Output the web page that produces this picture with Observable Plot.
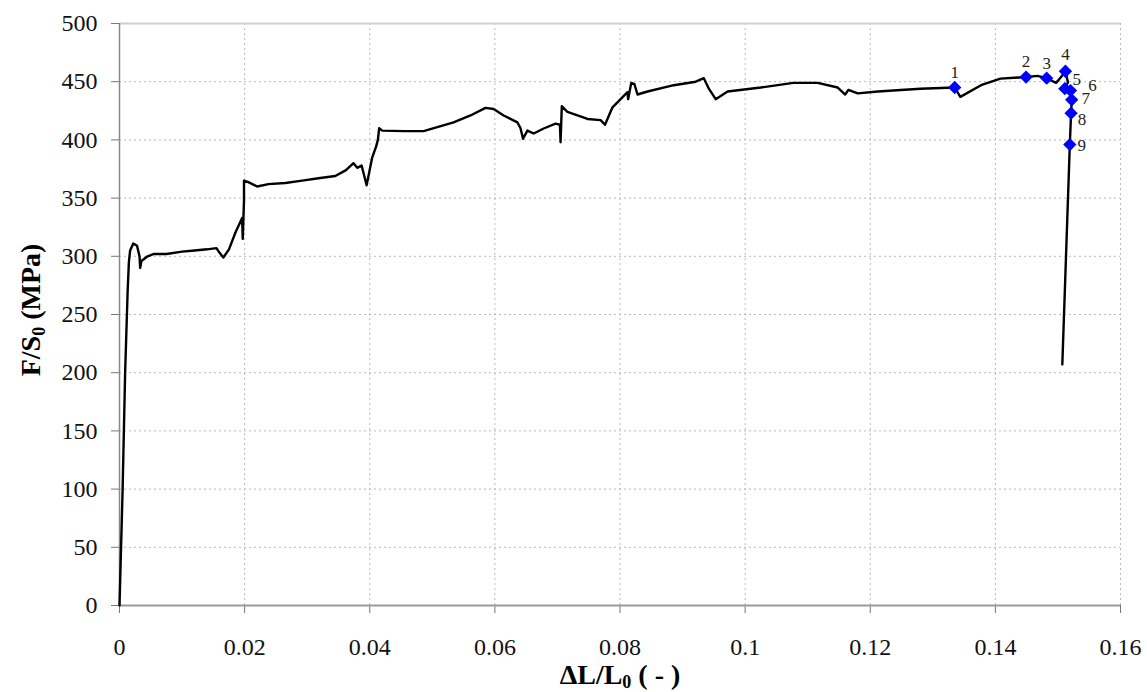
<!DOCTYPE html>
<html>
<head>
<meta charset="utf-8">
<script src="https://cdn.jsdelivr.net/npm/d3@7"></script>
<script src="https://cdn.jsdelivr.net/npm/@observablehq/plot@0.6"></script>
<style>
  html, body { margin: 0; padding: 0; background: #fff; }
  #chart svg { display: block; }
</style>
</head>
<body>
<div id="chart"></div>
<script>
// ---- data ----
const strain = [0, 0.0005, 0.0009, 0.0013, 0.0015, 0.0017, 0.0022, 0.0028, 0.0032, 0.0033, 0.0035, 0.0045, 0.0055, 0.0075, 0.010, 0.012, 0.014, 0.0155, 0.0160, 0.0166, 0.0175, 0.0185, 0.0196, 0.0197, 0.0199, 0.0199, 0.0205, 0.022, 0.0238, 0.0265, 0.0292, 0.0318, 0.0345, 0.0362, 0.0374, 0.0380, 0.0387, 0.0395, 0.0404, 0.0410, 0.0413, 0.0415, 0.042, 0.0454, 0.0486, 0.0508, 0.0534, 0.0561, 0.0585, 0.0598, 0.0614, 0.0636, 0.0641, 0.0645, 0.0652, 0.0662, 0.0678, 0.0697, 0.0704, 0.0705, 0.0707, 0.0716, 0.0748, 0.0769, 0.0776, 0.0788, 0.0812, 0.0813, 0.0818, 0.0823, 0.0828, 0.0844, 0.0886, 0.0921, 0.0934, 0.0942, 0.0953, 0.0972, 0.1025, 0.1077, 0.1116, 0.1148, 0.116, 0.1165, 0.118, 0.1212, 0.128, 0.1335, 0.1344, 0.1377, 0.1408, 0.1449, 0.1467, 0.1482, 0.1497, 0.1505, 0.1512, 0.1516, 0.1511, 0.152, 0.1522, 0.1521, 0.1519, 0.1507];
const stress = [0, 100, 200, 270, 295, 305, 311, 309, 300, 290, 296, 300, 302, 302, 304, 305, 306, 307, 303, 299, 306, 320, 333, 315, 348, 365, 364, 360, 362, 363, 365, 367, 369, 374, 380, 376, 378, 361, 385, 394, 400, 410, 408, 407.5, 407.5, 411, 415, 421, 427.5, 426.6, 421, 415, 410, 401, 408, 405.5, 409.8, 414, 413, 398, 429, 424, 418, 417, 413, 428, 441, 435, 449, 448, 439, 441.6, 447, 450, 453, 444, 435, 441.6, 445, 449, 449, 445, 439, 443, 440, 441.6, 444, 445, 437, 447, 452.6, 454, 455, 453, 449, 454, 459, 449.5, 444, 442.4, 434.4, 423, 396, 207];

const markerLabels = ["1", "2", "3", "4", "5", "6", "7", "8", "9"];
const markerStrain = [0.1335, 0.1449, 0.1482, 0.1512, 0.1511, 0.1520, 0.1522, 0.1521, 0.1519];
const markerStress = [445, 454, 453, 459, 444, 442.4, 434.4, 423, 396];

const xTicks = [0, 0.02, 0.04, 0.06, 0.08, 0.1, 0.12, 0.14, 0.16];
const xTickLabels = ["0", "0.02", "0.04", "0.06", "0.08", "0.1", "0.12", "0.14", "0.16"];
const yTicks = [0, 50, 100, 150, 200, 250, 300, 350, 400, 450, 500];
const yTickLabels = ["0", "50", "100", "150", "200", "250", "300", "350", "400", "450", "500"];

// ---- build tables ----
const curve = strain.map((x, i) => ({x, y: stress[i]}));
const markers = markerLabels.map((label, i) => ({label, x: markerStrain[i], y: markerStress[i]}));

// label placement (layout, not data)
const labelOffset = {
  "1": [0, -15], "2": [0, -15], "3": [0, -15], "4": [0, -17],
  "5": [12, -9], "6": [22, -5], "7": [14, -1], "8": [11, 6], "9": [12, 1]
};

const font = "Liberation Serif, Times New Roman, serif";

const chart = Plot.plot({
  width: 1147,
  height: 692,
  marginLeft: 119,
  marginRight: 27,
  marginTop: 23,
  marginBottom: 87,
  style: {fontFamily: font, fontSize: "24px", color: "#000", background: "#fff"},
  x: {domain: [0, 0.16], label: null},
  y: {domain: [0, 500], label: null},
  marks: [
    Plot.gridX(xTicks.filter(d => d > 0), {stroke: "#b8b8b8", strokeOpacity: 1, strokeDasharray: "2,3"}),
    Plot.gridY(yTicks.filter(d => d > 0 && d < 500), {stroke: "#b8b8b8", strokeOpacity: 1, strokeDasharray: "2,3"}),
    Plot.ruleY([500], {stroke: "#d0d0d0", strokeWidth: 2}),
    Plot.axisX({ticks: xTicks, tickFormat: (d, i) => xTickLabels[i], tickSize: 8, tickPadding: 24, stroke: "#777", fontSize: 24, fontFamily: font, fill: "#111"}),
    Plot.axisY({ticks: yTicks, tickFormat: (d, i) => yTickLabels[i], tickSize: 8, tickPadding: 14, stroke: "#777", fontSize: 24, fontFamily: font, fill: "#111"}),
    Plot.ruleX([0], {stroke: "#888", strokeWidth: 1.5}),
    Plot.ruleY([0], {stroke: "#999", strokeWidth: 2}),
    Plot.line(curve, {x: "x", y: "y", stroke: "#000", strokeWidth: 2.4, curve: "linear"}),
    Plot.dot(markers, {x: "x", y: "y", symbol: "diamond2", r: 6, fill: "#0000ff", stroke: "none"}),
    ...markerLabels.map(lab => Plot.text(markers.filter(m => m.label === lab), {
      x: "x", y: "y", text: "label",
      dx: labelOffset[lab][0], dy: labelOffset[lab][1],
      fontSize: 17, fill: "#222", fontFamily: font
    }))
  ]
});

document.getElementById("chart").appendChild(chart);

// ---- axis titles with subscripts ----
const svg = d3.select(chart);
const xt = svg.append("text")
  .attr("x", 620).attr("y", 684)
  .attr("text-anchor", "middle")
  .attr("font-family", font).attr("font-size", 28).attr("font-weight", "bold").attr("fill", "#000");
xt.append("tspan").text("ΔL/L");
xt.append("tspan").text("0").attr("font-size", 18).attr("dy", 4);
xt.append("tspan").text(" ( - )").attr("dy", -4);

const yt = svg.append("text")
  .attr("transform", "translate(40,310) rotate(-90)")
  .attr("text-anchor", "middle")
  .attr("font-family", font).attr("font-size", 28).attr("font-weight", "bold").attr("fill", "#000");
yt.append("tspan").text("F/S");
yt.append("tspan").text("0").attr("font-size", 18).attr("dy", 5);
yt.append("tspan").text(" (MPa)").attr("dy", -5);
</script>
</body>
</html>
